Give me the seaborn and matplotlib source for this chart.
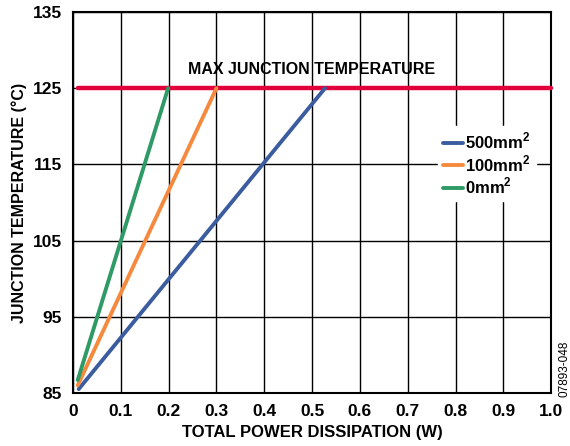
import matplotlib
matplotlib.use("Agg")
import matplotlib.pyplot as plt
import seaborn as sns
import pandas as pd

# Data
series = ["500mm$^{\\mathbf{2}}$", "100mm$^{\\mathbf{2}}$", "0mm$^{\\mathbf{2}}$"]
power_500 = [0.012, 0.527]
temp_500 = [85.5, 125.0]
power_100 = [0.010, 0.300]
temp_100 = [86.0, 125.0]
power_0 = [0.010, 0.199]
temp_0 = [86.7, 125.0]
max_temp = 125
x_ticks = [0, 0.1, 0.2, 0.3, 0.4, 0.5, 0.6, 0.7, 0.8, 0.9, 1.0]
x_tick_labels = ["0", "0.1", "0.2", "0.3", "0.4", "0.5", "0.6", "0.7", "0.8", "0.9", "1.0"]
y_ticks = [85, 95, 105, 115, 125, 135]
colors = ["#3B5C9E", "#F58A3E", "#2E9A65"]

df = pd.DataFrame({
    "power": power_500 + power_100 + power_0,
    "temp": temp_500 + temp_100 + temp_0,
    "series": [series[0]] * len(power_500) + [series[1]] * len(power_100) + [series[2]] * len(power_0),
})

sns.set_theme(style="white")
plt.rcParams["font.family"] = ["Liberation Sans", "DejaVu Sans"]
plt.rcParams["mathtext.fontset"] = "custom"
plt.rcParams["mathtext.bf"] = "Liberation Sans:bold"
plt.rcParams["mathtext.rm"] = "Liberation Sans"
for k in ["text.color", "axes.labelcolor", "xtick.color", "ytick.color"]:
    plt.rcParams[k] = "black"

fig = plt.figure(figsize=(5.7, 4.46), dpi=100)
ax = fig.add_axes([0.128, 0.119, 0.839, 0.854])

for yv in y_ticks:
    ax.axhline(yv, color="black", lw=1.0, zorder=1)
for xv in x_ticks:
    ax.axvline(xv, color="black", lw=1.0, zorder=1)

ax.axhline(max_temp, xmin=0.01, xmax=1.0, color="#E2003A", lw=3.2, zorder=3, clip_on=False)

sns.lineplot(data=df, x="power", y="temp", hue="series", palette=colors,
             hue_order=series, lw=2.8, ax=ax, zorder=4, legend=True)

ax.set_xlim(0, 1.0)
ax.set_ylim(85, 135)
ax.set_xticks(x_ticks)
ax.set_xticklabels(x_tick_labels, fontsize=12.5, fontweight="bold")
ax.set_yticks(y_ticks)
ax.set_yticklabels([str(v) for v in y_ticks], fontsize=12.5, fontweight="bold")
ax.tick_params(length=0, pad=8)
ax.set_xlabel("TOTAL POWER DISSIPATION (W)", fontsize=12, fontweight="bold", labelpad=4)
ax.set_ylabel("JUNCTION TEMPERATURE (°C)", fontsize=11.5, fontweight="bold", labelpad=4)
for s in ax.spines.values():
    s.set_color("black")
    s.set_linewidth(1.5)

ax.text(0.498, 127.5, "MAX JUNCTION TEMPERATURE", fontsize=11.5, fontweight="bold",
        ha="center", va="center", zorder=5)

leg = ax.legend(loc="upper left", bbox_to_anchor=(0.745, 0.722), frameon=True,
                framealpha=1, edgecolor="white", fancybox=False, handlelength=1.2,
                handletextpad=0.15, labelspacing=0.1, borderpad=0.3,
                prop={"weight": "bold", "size": 12})
leg.set_zorder(6)

fig.text(0.99, 0.173, "07893-048", rotation=90, fontsize=8.5, ha="center", va="center")

fig.savefig("out.png", dpi=100)
